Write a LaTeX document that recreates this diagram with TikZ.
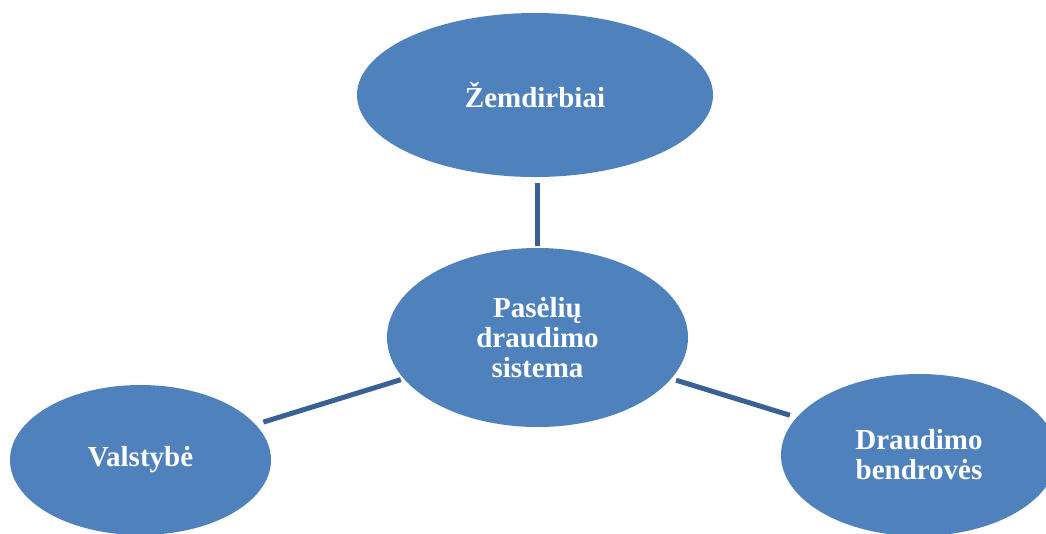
\documentclass[tikz,border=0pt]{standalone}
\usepackage{fontspec}
\setmainfont{Liberation Serif}
\usetikzlibrary{shapes.geometric}
\definecolor{bubblefill}{HTML}{4F81BD}
\definecolor{linkline}{HTML}{3A6195}
\tikzset{
  bubble/.style={ellipse, fill=bubblefill, draw=none, inner sep=0pt,
    text=white, align=center,
    font=\bfseries\fontsize{29}{30}\selectfont},
  link/.style={draw=linkline, line width=5pt, line cap=butt}
}
\begin{document}
\begin{tikzpicture}[x=1pt, y=-1pt]
  \useasboundingbox (0,0) rectangle (1046,533);
  \clip (0,0) rectangle (1046,533);
  % four ellipses
  \node[bubble, minimum width=356pt, minimum height=164pt] (farm) at (535,95) {Žemdirbiai};
  \node[bubble, minimum width=301pt, minimum height=179pt] (hub) at (537.5,337.5) {Pasėlių\\draudimo\\sistema};
  \node[bubble, minimum width=261pt, minimum height=150pt] (state) at (140.5,460) {Valstybė};
  \node[bubble, minimum width=276pt, minimum height=162pt] (insur) at (919,455) {Draudimo\\bendrovės};
  % connectors from the hub
  \draw[link, shorten <=2pt, shorten >=6pt] (hub.north) -- (hub.north |- farm.south);
  \draw[link, shorten <=3pt, shorten >=8pt] (hub) -- (state);
  \draw[link, shorten <=5pt, shorten >=7pt] (hub) -- (insur);
\end{tikzpicture}
\end{document}
